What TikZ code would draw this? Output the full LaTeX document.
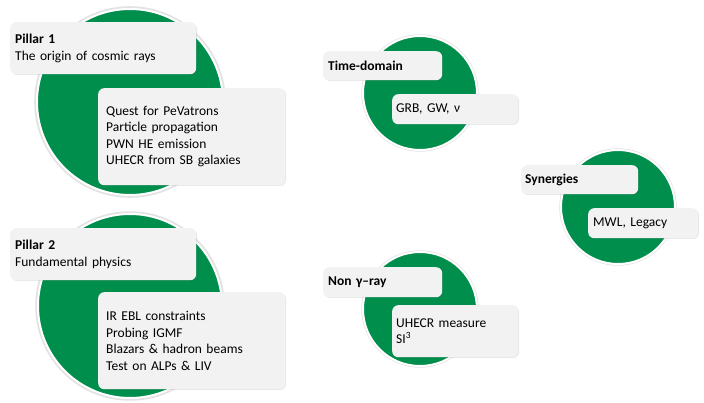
\documentclass[tikz,border=0pt]{standalone}
\usepackage{fontspec}
\setmainfont{Carlito}
\usetikzlibrary{shadows}
\definecolor{cgreen}{RGB}{0,142,76}
\definecolor{boxgray}{RGB}{242,242,242}
\begin{document}
\begin{tikzpicture}[x=1pt,y=-1pt,
  disc/.style={circle, fill=cgreen, draw=white, line width=2pt, inner sep=0pt,
    drop shadow={shadow xshift=0pt, shadow yshift=0pt, opacity=0.25, shadow scale=1.03, fill=black!45}},
  card/.style={rectangle, rounded corners=6pt, fill=boxgray, draw=none, anchor=north west,
    inner ysep=0pt, align=left, font=\fontsize{13.5}{16.5}\selectfont,
    drop shadow={shadow xshift=0.8pt, shadow yshift=-0.8pt, opacity=0.15, fill=black!60}},
]
\useasboundingbox (0,0) rectangle (704,403);
% Pillar 1
\node[disc, minimum size=186pt] (c1) at (130,102) {};
\node[card, minimum height=52pt, text width=176pt, inner xsep=5pt] (t1) at (10,22)
  {\textbf{Pillar 1}\\The origin of cosmic rays};
\node[card, minimum height=97pt, text width=171pt, inner xsep=8pt] (b1) at (98,88)
  {Quest for PeVatrons\\Particle propagation\\PWN HE emission\\UHECR from SB galaxies};
% Pillar 2
\node[disc, minimum size=184pt] (c2) at (130,306) {};
\node[card, minimum height=52pt, text width=176pt, inner xsep=5pt] (t2) at (10,228)
  {\textbf{Pillar 2}\\Fundamental physics};
\node[card, minimum height=97pt, text width=171pt, inner xsep=8pt] (b2) at (98,292)
  {IR EBL constraints\\Probing IGMF\\Blazars \& hadron beams\\Test on ALPs \& LIV};
% Time-domain
\node[disc, minimum size=114pt] (c3) at (420,93) {};
\node[card, minimum height=29pt, text width=109pt, inner xsep=5pt] (t3) at (323,51)
  {\textbf{Time-domain}};
\node[card, minimum height=30pt, text width=118pt, inner xsep=4pt] (b3) at (392,94)
  {GRB, GW, ν};
% Synergies
\node[disc, minimum size=114pt] (c4) at (618,207) {};
\node[card, minimum height=29pt, text width=109pt, inner xsep=4pt] (t4) at (521,165)
  {\textbf{Synergies}};
\node[card, minimum height=30pt, text width=100pt, inner xsep=5pt] (b4) at (588,208)
  {MWL, Legacy};
% Non gamma-ray
\node[disc, minimum size=114pt] (c5) at (420,309) {};
\node[card, minimum height=30pt, text width=109pt, inner xsep=5pt] (t5) at (323,267)
  {\textbf{Non γ–ray}};
\node[card, minimum height=52pt, text width=118pt, inner xsep=4pt] (b5) at (392,305)
  {UHECR measure\\SI\textsuperscript{3}};
\end{tikzpicture}
\end{document}
